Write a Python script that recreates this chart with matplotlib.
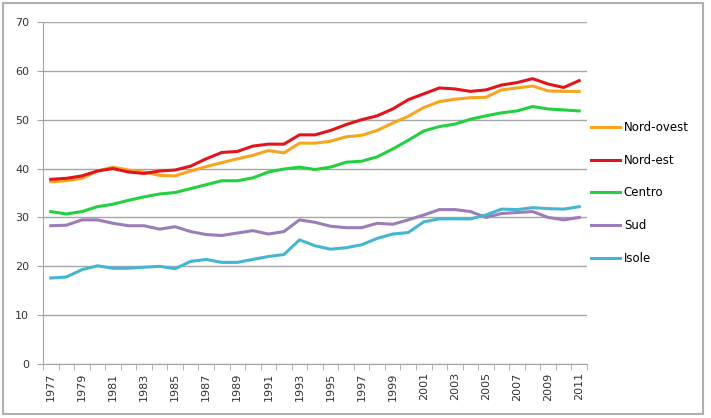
import matplotlib
matplotlib.use("Agg")
import matplotlib.pyplot as plt
from matplotlib.patches import Rectangle
import numpy as np

years = list(range(1977, 2012))

nord_ovest = [37.3, 37.5, 38.0, 39.5, 40.3, 39.7, 39.3, 38.6, 38.5, 39.5, 40.4, 41.2, 42.0,
              42.7, 43.7, 43.2, 45.2, 45.2, 45.6, 46.5, 46.8, 47.8, 49.3, 50.7, 52.5,
              53.7, 54.2, 54.5, 54.6, 56.1, 56.5, 56.9, 55.9, 55.8, 55.8]
nord_est = [37.8, 38.0, 38.5, 39.5, 40.0, 39.3, 39.0, 39.5, 39.7, 40.5, 42.0, 43.3, 43.5,
            44.6, 45.0, 45.0, 46.9, 46.9, 47.8, 49.0, 50.0, 50.8, 52.2, 54.1, 55.3,
            56.5, 56.3, 55.8, 56.1, 57.1, 57.6, 58.4, 57.3, 56.6, 58.0]
centro = [31.2, 30.7, 31.2, 32.2, 32.7, 33.5, 34.2, 34.8, 35.1, 35.9, 36.7, 37.5, 37.5,
          38.1, 39.3, 39.9, 40.3, 39.8, 40.3, 41.3, 41.5, 42.4, 44.0, 45.8, 47.7,
          48.6, 49.1, 50.1, 50.8, 51.4, 51.8, 52.7, 52.2, 52.0, 51.8]
sud = [28.3, 28.4, 29.5, 29.5, 28.8, 28.3, 28.3, 27.6, 28.1, 27.1, 26.5, 26.3, 26.8,
       27.3, 26.6, 27.1, 29.5, 29.0, 28.2, 27.9, 27.9, 28.8, 28.6, 29.5, 30.5,
       31.6, 31.6, 31.2, 30.0, 30.8, 31.0, 31.2, 30.0, 29.5, 30.0]
isole = [17.6, 17.8, 19.3, 20.1, 19.6, 19.6, 19.8, 20.0, 19.5, 21.0, 21.4, 20.8, 20.8,
         21.4, 22.0, 22.4, 25.4, 24.2, 23.5, 23.8, 24.4, 25.7, 26.6, 26.9, 29.1,
         29.7, 29.7, 29.7, 30.5, 31.7, 31.6, 32.0, 31.8, 31.7, 32.2]

names = ["Nord-ovest", "Nord-est", "Centro", "Sud", "Isole"]
colors = ["#F7A520", "#E3141B", "#23D03F", "#9C7DB8", "#45B6D2"]

fig = plt.figure(figsize=(7.11, 4.18), dpi=100)
ax = fig.add_axes([43/711, 1-364/418, 544/711, 342/418])

x = np.arange(len(years))
for vals, name, c in zip([nord_ovest, nord_est, centro, sud, isole], names, colors):
    ax.plot(x, vals, color=c, lw=2.2, label=name, solid_joinstyle="round")

ax.set_xlim(-0.5, len(years) - 0.5)
ax.set_ylim(0, 70)
ax.set_yticks(range(0, 71, 10))
ax.grid(axis="y", color="#a6a6a6", lw=1)
ax.set_axisbelow(True)

ax.set_xticks(x[::2])
ax.set_xticklabels([str(y) for y in years[::2]], rotation=90, fontsize=8, color="#333333")
ax.set_xticks(np.arange(-0.5, len(years), 1), minor=True)
ax.tick_params(axis="x", which="major", length=0, pad=6)
ax.tick_params(axis="x", which="minor", length=4, color="#a6a6a6", direction="out")
ax.tick_params(axis="y", length=4, color="#a6a6a6", labelsize=8, labelcolor="#333333", pad=6)

for s in ["top", "right"]:
    ax.spines[s].set_visible(False)
for s in ["left", "bottom"]:
    ax.spines[s].set_color("#a6a6a6")

ax.legend(loc="center left", bbox_to_anchor=(1.007, 0.5), frameon=False, fontsize=8.5,
          borderaxespad=0, borderpad=0, handlelength=2.5, handletextpad=0.3,
          labelspacing=1.67)

fig.patches.append(Rectangle((3/711, 4/418), 700/711, 411/418, transform=fig.transFigure,
                             fill=False, edgecolor="#b0b0b0", lw=1.5))

fig.savefig("out.png", dpi=100)
